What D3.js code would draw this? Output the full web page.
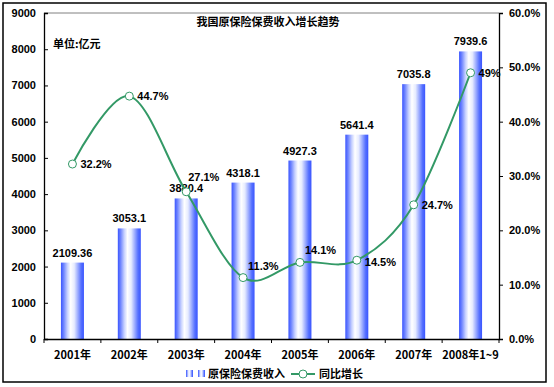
<!DOCTYPE html>
<html>
<head>
<meta charset="utf-8">
<script src="https://cdn.jsdelivr.net/npm/d3@7"></script>
<style>
  body { margin: 0; background: #fff; }
  text { font-family: Arial, "Liberation Sans", "Noto Sans CJK SC", sans-serif; font-weight: bold; fill: #000; }
  .cjk { font-family: "Noto Sans CJK SC", sans-serif; }
</style>
</head>
<body>
<svg id="chart" width="554" height="387"></svg>
<script>
// data
const categories = ["2001年", "2002年", "2003年", "2004年", "2005年", "2006年", "2007年", "2008年1~9"];
const premium = [2109.36, 3053.1, 3880.4, 4318.1, 4927.3, 5641.4, 7035.8, 7939.6];
const premiumLabels = ["2109.36", "3053.1", "3880.4", "4318.1", "4927.3", "5641.4", "7035.8", "7939.6"];
const growth = [32.2, 44.7, 27.1, 11.3, 14.1, 14.5, 24.7, 49];
const growthLabels = ["32.2%", "44.7%", "27.1%", "11.3%", "14.1%", "14.5%", "24.7%", "49%"];
const leftTicks = [0, 1000, 2000, 3000, 4000, 5000, 6000, 7000, 8000, 9000];
const rightTicks = [0, 10, 20, 30, 40, 50, 60];

const svg = d3.select("#chart");
const plot = { left: 44, right: 499, top: 13, bottom: 339 };

// outer frame
svg.append("rect").attr("x", 3).attr("y", 3).attr("width", 543).attr("height", 379)
  .attr("fill", "none").attr("stroke", "#000").attr("stroke-width", 1.5);

const x = d3.scaleBand().domain(categories).range([plot.left, plot.right]);
const yL = d3.scaleLinear().domain([0, 9000]).range([plot.bottom, plot.top]);
const yR = d3.scaleLinear().domain([0, 60]).range([plot.bottom, plot.top]);

// gradient for bars
const defs = svg.append("defs");
const grad = defs.append("linearGradient").attr("id", "barGrad")
  .attr("x1", "0%").attr("x2", "100%").attr("y1", "0%").attr("y2", "0%");
[["0%", "#3a55ff"], ["12%", "#6f85ff"], ["28%", "#c6d0ff"], ["42%", "#ffffff"],
 ["58%", "#e6ebff"], ["74%", "#9aaaff"], ["88%", "#5570ff"], ["100%", "#3a55ff"]]
  .forEach(([o, c]) => grad.append("stop").attr("offset", o).attr("stop-color", c));

// plot border (top, gray)
svg.append("line").attr("x1", plot.left).attr("x2", plot.right)
  .attr("y1", plot.top).attr("y2", plot.top).attr("stroke", "#808080");

const barW = 23;
svg.append("g").selectAll("rect").data(premium).join("rect")
  .attr("x", (d, i) => x(categories[i]) + x.bandwidth() / 2 - barW / 2)
  .attr("y", d => yL(d))
  .attr("width", barW)
  .attr("height", d => yL(0) - yL(d))
  .attr("fill", "url(#barGrad)");

// axes
const axL = svg.append("g").attr("transform", `translate(${plot.left},0)`)
  .call(d3.axisLeft(yL).tickValues(leftTicks).tickSize(-4).tickPadding(8).tickFormat(d3.format("d")));
const axR = svg.append("g").attr("transform", `translate(${plot.right},0)`)
  .call(d3.axisRight(yR).tickValues(rightTicks).tickSize(4).tickPadding(6)
    .tickFormat(d => d.toFixed(1) + "%"));
const axB = svg.append("g").attr("transform", `translate(0,${plot.bottom})`)
  .call(d3.axisBottom(x).tickSize(0).tickPadding(12));
// category boundary ticks
svg.append("g").selectAll("line").data(d3.range(categories.length + 1)).join("line")
  .attr("x1", i => plot.left + i * x.step()).attr("x2", i => plot.left + i * x.step())
  .attr("y1", plot.bottom).attr("y2", plot.bottom + 4).attr("stroke", "#000");

[axL, axR, axB].forEach(a => {
  a.select(".domain").attr("stroke", "#000").attr("stroke-width", 1.3);
  a.selectAll("text").attr("font-size", 11).style("font-weight", "bold");
});
axB.selectAll("text").attr("class", "cjk");
axL.selectAll(".tick line").attr("stroke", "#000");

// bar labels
svg.append("g").selectAll("text").data(premium).join("text")
  .attr("x", (d, i) => x(categories[i]) + x.bandwidth() / 2)
  .attr("y", d => yL(d) - 6)
  .attr("text-anchor", "middle").attr("font-size", 11)
  .text((d, i) => premiumLabels[i]);

// growth line
const cx = i => x(categories[i]) + x.bandwidth() / 2;
const line = d3.line().x((d, i) => cx(i)).y(d => yR(d)).curve(d3.curveCardinal.tension(0));
svg.append("path").datum(growth).attr("d", line)
  .attr("fill", "none").attr("stroke", "#339966").attr("stroke-width", 2);
svg.append("g").selectAll("circle").data(growth).join("circle")
  .attr("cx", (d, i) => cx(i)).attr("cy", d => yR(d)).attr("r", 4)
  .attr("fill", "#fff").attr("stroke", "#339966").attr("stroke-width", 1);

// percent labels, offsets by point
const offs = [[8, 4], [8, 4], [2, -11], [5, -8], [5, -8], [8, 6], [8, 4], [8, 4]];
svg.append("g").selectAll("text").data(growth).join("text")
  .attr("x", (d, i) => cx(i) + offs[i][0])
  .attr("y", (d, i) => yR(d) + offs[i][1])
  .attr("font-size", 11)
  .text((d, i) => growthLabels[i]);

// title & unit
svg.append("text").attr("class", "cjk").attr("x", 268).attr("y", 26)
  .attr("text-anchor", "middle").attr("font-size", 11).text("我国原保险保费收入增长趋势");
svg.append("text").attr("class", "cjk").attr("x", 53).attr("y", 48)
  .attr("font-size", 11).text("单位:亿元");

// legend
const lg = svg.append("g").attr("transform", "translate(0,374)");
lg.append("rect").attr("x", 186).attr("y", -4).attr("width", 7).attr("height", 7).attr("fill", "url(#barGrad)");
lg.append("rect").attr("x", 198).attr("y", -4).attr("width", 7).attr("height", 7).attr("fill", "url(#barGrad)");
lg.append("text").attr("class", "cjk").attr("x", 208).attr("y", 4).attr("font-size", 11).text("原保险保费收入");
lg.append("line").attr("x1", 291).attr("x2", 315).attr("y1", 0).attr("y2", 0)
  .attr("stroke", "#339966").attr("stroke-width", 2);
lg.append("circle").attr("cx", 303).attr("cy", 0).attr("r", 4)
  .attr("fill", "#fff").attr("stroke", "#339966");
lg.append("text").attr("class", "cjk").attr("x", 319).attr("y", 4).attr("font-size", 11).text("同比增长");
</script>
</body>
</html>
